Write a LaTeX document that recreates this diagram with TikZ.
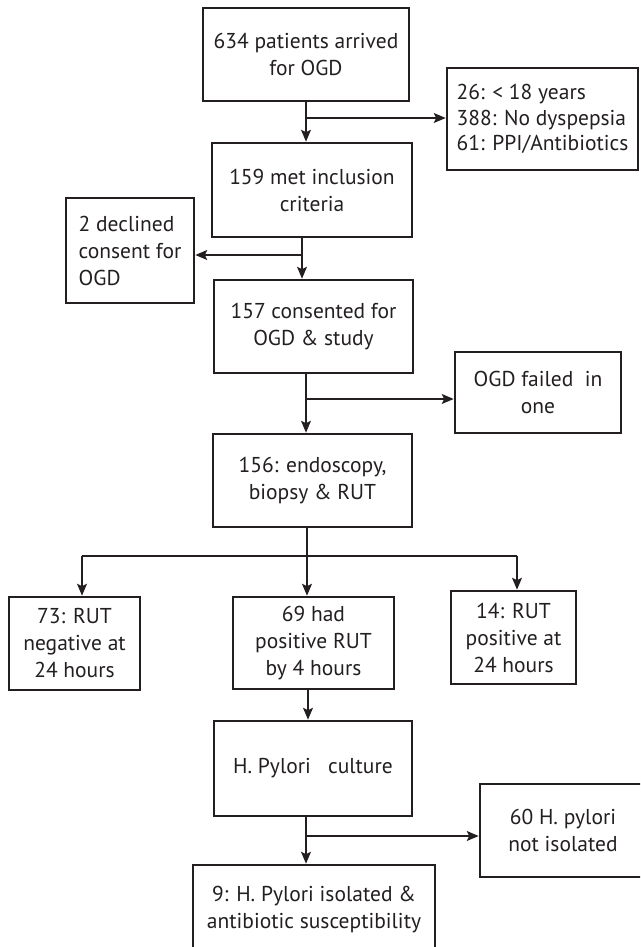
\documentclass[tikz,border=0pt]{standalone}
\usepackage{fontspec}
\setmainfont{PT Sans}
\usetikzlibrary{arrows.meta}
\definecolor{ink}{HTML}{231F20}
\tikzset{
  box/.style={draw=ink, text=ink, line width=2.6pt, inner sep=0pt, align=center,
    font={\fontsize{21.5}{27}\selectfont}},
  arr/.style={draw=ink, line width=1.4pt, -{Stealth[length=12pt,width=10pt,inset=2.5pt]}},
  ln/.style={draw=ink, line width=1.4pt}
}
\begin{document}
\begin{tikzpicture}[x=1pt,y=-1pt]
\useasboundingbox (0,0) rectangle (640,947);
\clip (0,0) rectangle (640,947);
% boxes
\node[box, minimum width=206pt, minimum height=93pt] (b1) at (306,54.5) {634 patients arrived\\for OGD};
\node[box, minimum width=191pt, minimum height=102pt, align=left,
  font={\fontsize{21.5}{25.5}\selectfont}] (excl) at (542.5,119) {26: < 18 years\\388: No dyspepsia\\61: PPI/Antibiotics};
\node[box, minimum width=200pt, minimum height=94pt] (b2) at (312,190) {159 met inclusion\\criteria};
\node[box, minimum width=128pt, minimum height=105pt, align=left] (decl) at (130,250.5) {2 declined\\consent for\\OGD};
\node[box, minimum width=199pt, minimum height=93pt] (b3) at (313.5,326.5) {157 consented for\\OGD \& study};
\node[box, minimum width=166pt, minimum height=81pt] (fail) at (538,392.5) {OGD failed~ in\\one};
\node[box, minimum width=199pt, minimum height=93pt] (b4) at (312.5,480.5) {156: endoscopy,\\biopsy \& RUT};
\node[box, minimum width=131pt, minimum height=93pt] (neg) at (74.5,643.5) {73: RUT\\negative at\\24 hours};
\node[box, minimum width=161pt, minimum height=92pt] (pos) at (313.5,643) {69 had\\positive RUT\\by 4 hours};
\node[box, minimum width=125pt, minimum height=93pt] (late) at (513.5,637.5) {14: RUT\\positive at\\24 hours};
\node[box, minimum width=198pt, minimum height=95pt] (cult) at (313,768.5) {H. Pylori~~~culture};
\node[box, minimum width=166pt, minimum height=93pt] (notiso) at (563,830.5) {60 H. pylori\\not isolated};
\node[box, minimum width=242pt, minimum height=90pt] (iso) at (314,910) {9: H. Pylori isolated \&\\antibiotic susceptibility};
% connectors
\coordinate (j1) at (306,118);
\draw[ln] (j1 |- b1.south) -- (j1);
\draw[arr] (j1) -- (j1 |- b2.north);
\draw[arr] (j1) -- (j1 -| excl.west);
\coordinate (j2) at (302,255);
\draw[ln] (j2 |- b2.south) -- (j2);
\draw[arr] (j2) -- (j2 |- b3.north);
\draw[arr] (j2) -- (j2 -| decl.east);
\coordinate (j3) at (306,399);
\draw[ln] (j3 |- b3.south) -- (j3);
\draw[arr] (j3) -- (j3 |- b4.north);
\draw[arr] (j3) -- (j3 -| fail.west);
\coordinate (j4) at (307,556);
\coordinate (jl) at (82,556);
\coordinate (jr) at (517,556);
\draw[ln] (j4 |- b4.south) -- (j4);
\draw[ln] (jl) -- (jr);
\draw[arr] (j4) -- (j4 |- pos.north);
\draw[arr] (jl) -- (jl |- neg.north);
\draw[arr] (jr) -- (jr |- late.north);
\coordinate (j5) at (308,700);
\draw[arr] (j5 |- pos.south) -- (j5 |- cult.north);
\coordinate (j6) at (306,836);
\draw[ln] (j6 |- cult.south) -- (j6);
\draw[arr] (j6) -- (j6 |- iso.north);
\draw[arr] (j6) -- (j6 -| notiso.west);
\end{tikzpicture}
\end{document}
